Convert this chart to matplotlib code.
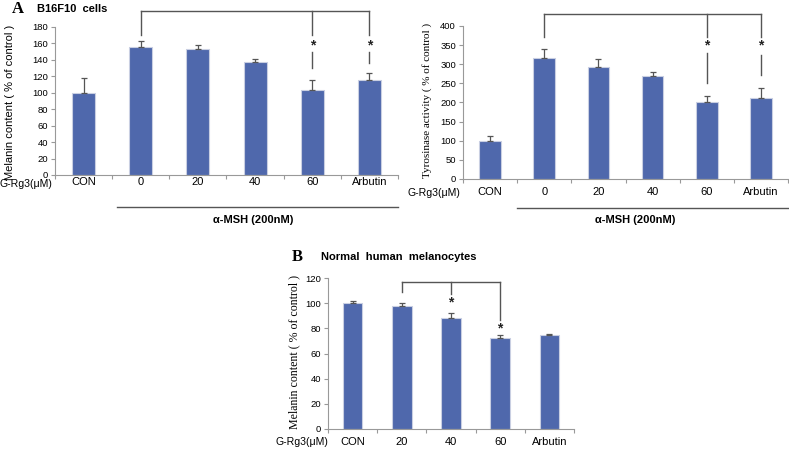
import matplotlib
matplotlib.use("Agg")
import matplotlib.pyplot as plt
import numpy as np

W, H = 789, 450
BAR = '#4F68AC'
EDGE = '#c9cfe2'
LINE = '#555555'
SANS = 'Liberation Sans'
SERIF = 'Liberation Serif'

# Panel A left: melanin content B16F10
a1_cats = ['CON', '0', '20', '40', '60', 'Arbutin']
a1_vals = [100, 156, 153, 138, 103, 116]
a1_err = [18, 7, 5, 3, 13, 8]

# Panel A right: tyrosinase activity
a2_cats = ['CON', '0', '20', '40', '60', 'Arbutin']
a2_vals = [100, 316, 294, 268, 200, 213]
a2_err = [12, 25, 19, 11, 16, 25]

# Panel B: normal human melanocytes
b_cats = ['CON', '20', '40', '60', 'Arbutin']
b_vals = [100, 98, 88, 72, 75]
b_err = [1.5, 2.5, 4.5, 2.5, 0.7]

fig = plt.figure(figsize=(W / 100, H / 100), dpi=100)


def px_axes(x0, x1, y_top, y_bot):
    return fig.add_axes([x0 / W, 1 - y_bot / H, (x1 - x0) / W, (y_bot - y_top) / H])


def ftext(x, y, s, **kw):
    fig.text(x / W, 1 - y / H, s, **kw)


def draw_bars(ax, cats, vals, errs, ymax, ystep, ylabel, lab_pad, ylab_xy, ylab_font, ylab_size):
    n = len(cats)
    x = np.arange(n)
    ax.bar(x, vals, width=0.4, color=BAR, edgecolor=EDGE, linewidth=0.8, zorder=2)
    ax.errorbar(x, vals, yerr=[np.zeros(n), errs], fmt='none', ecolor=LINE,
                elinewidth=0.9, capsize=2.5, capthick=0.9, zorder=3)
    ax.set_xlim(-0.5, n - 0.5)
    ax.set_ylim(0, ymax)
    ax.set_yticks(np.arange(0, ymax + 1, ystep))
    ax.set_xticks(np.arange(n + 1) - 0.5)
    ax.set_xticklabels([])
    ax.set_xticks(x, minor=True)
    ax.set_xticklabels(cats, minor=True, fontsize=8, family=SANS)
    ax.tick_params(axis='x', which='major', length=3, color='#999999', direction='out')
    ax.tick_params(axis='x', which='minor', length=0, pad=lab_pad)
    ax.tick_params(axis='y', length=3, color='#999999', labelsize=6.8, pad=2)
    for lab in ax.get_yticklabels():
        lab.set_family(SANS)
    for s in ['top', 'right']:
        ax.spines[s].set_visible(False)
    for s in ['left', 'bottom']:
        ax.spines[s].set_color('#999999')
        ax.spines[s].set_linewidth(0.8)
    ax.set_ylabel(ylabel, family=ylab_font, fontsize=ylab_size)
    ax.yaxis.set_label_coords(*ylab_xy)
    ax.patch.set_alpha(0)


def seg(ax, x0, x1, y0, y1):
    ax.plot([x0, x1], [y0, y1], color=LINE, lw=1.0, clip_on=False, zorder=4)


def star(ax, x, y):
    ax.text(x, y, '*', ha='center', va='center', fontsize=10, fontweight='bold',
            family=SANS, color='#222222', clip_on=False)


# ---------- Panel A left ----------
ax1 = px_axes(55, 398, 27, 175)
draw_bars(ax1, a1_cats, a1_vals, a1_err, 180, 20, 'Melanin content ( % of control )',
          1.5, ((15 - 55) / 343, (175 - 102) / 148), SANS, 8)
seg(ax1, 1, 5, 199.5, 199.5)
seg(ax1, 1, 1, 199.5, 170)
for xi in [4, 5]:
    seg(ax1, xi, xi, 199.5, 170)
    star(ax1, xi, 157)
seg(ax1, 4, 4, 149, 130)
seg(ax1, 5, 5, 149, 136)
ftext(0, 184, 'G-Rg3(\u03bcM)', fontsize=7.6, family=SANS, va='center', ha='left')
fig.add_artist(plt.Line2D([117 / W, 398 / W], [1 - 207 / H, 1 - 207 / H], color=LINE, lw=1.0))
ftext(253, 220, '\u03b1-MSH (200nM)', fontsize=8, fontweight='bold', family=SANS, ha='center', va='center')
ftext(12, 9, 'A', fontsize=12, fontweight='bold', family=SERIF, ha='left', va='center')
ftext(37, 9, 'B16F10  cells', fontsize=8, fontweight='bold', family=SANS, ha='left', va='center')

# ---------- Panel A right ----------
ax2 = px_axes(463, 788, 26, 179)
draw_bars(ax2, a2_cats, a2_vals, a2_err, 400, 50, 'Tyrosinase activity ( % of control )',
          6, ((432 - 463) / 325, (179 - 100) / 153), SERIF, 8)
seg(ax2, 1, 5, 431, 431)
seg(ax2, 1, 1, 431, 371)
for xi in [4, 5]:
    seg(ax2, xi, xi, 431, 371)
    star(ax2, xi, 348)
seg(ax2, 4, 4, 329, 251)
seg(ax2, 5, 5, 324, 272)
ftext(407, 193, 'G-Rg3(\u03bcM)', fontsize=7.6, family=SANS, va='center', ha='left')
fig.add_artist(plt.Line2D([517 / W, 788 / W], [1 - 208 / H, 1 - 208 / H], color=LINE, lw=1.0))
ftext(635, 220, '\u03b1-MSH (200nM)', fontsize=8, fontweight='bold', family=SANS, ha='center', va='center')

# ---------- Panel B ----------
ax3 = px_axes(328, 574, 278, 429)
draw_bars(ax3, b_cats, b_vals, b_err, 120, 20, 'Melanin content ( % of control )',
          6, ((300 - 328) / 246, (429 - 352) / 151), SERIF, 8.6)
seg(ax3, 1, 3, 117, 117)
seg(ax3, 1, 1, 117, 109)
seg(ax3, 2, 2, 117, 107)
seg(ax3, 3, 3, 117, 86.5)
star(ax3, 2, 100.5)
star(ax3, 3, 79.5)
ftext(275, 442, 'G-Rg3(\u03bcM)', fontsize=7.6, family=SANS, va='center', ha='left')
ftext(292, 257, 'B', fontsize=12, fontweight='bold', family=SERIF, ha='left', va='center')
ftext(321, 257, 'Normal  human  melanocytes', fontsize=8, fontweight='bold', family=SANS, ha='left', va='center')

fig.savefig('out.png', dpi=100)
